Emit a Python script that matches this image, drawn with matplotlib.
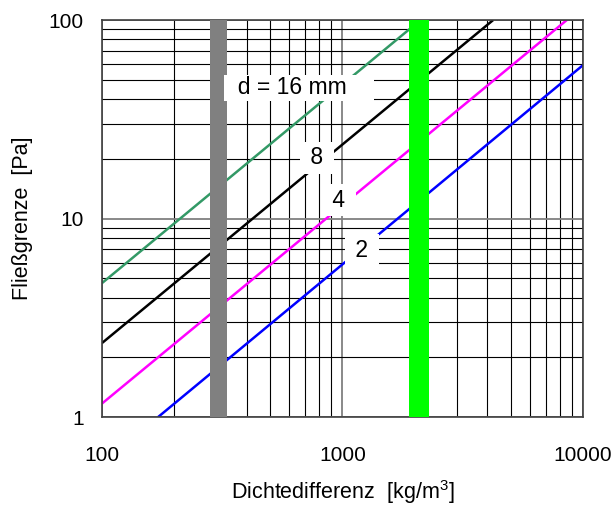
import matplotlib
matplotlib.use('Agg')
import matplotlib.pyplot as plt
from matplotlib.ticker import LogLocator, FixedLocator, NullFormatter

plt.rcParams['font.family'] = ['Liberation Sans', 'DejaVu Sans']
plt.rcParams['mathtext.fontset'] = 'custom'
plt.rcParams['mathtext.rm'] = 'Liberation Sans'
plt.rcParams['mathtext.it'] = 'Liberation Sans'

# lines: yield stress vs density difference for grain size d
sizes = ['16', '8', '4', '2']
x_ends = [[100, 2110], [100, 4230], [100, 8560], [171, 10000]]
y_ends = [[4.73, 100], [2.36, 100], [1.17, 100], [1.0, 59.3]]
colors = ['#339966', 'black', '#FF00FF', '#0000FF']

label_text = ['  d = 16 mm    ', ' 8 ', ' 4 ', ' 2 ']
label_x = [659, 784, 966, 1205]
label_y = [45.5, 20.2, 12.4, 6.94]
label_pad = [1, 3, 3, 3]

gray_band = [281, 331]
green_band = [1890, 2290]

fig = plt.figure(figsize=(6.14, 5.15), dpi=100)
ax = fig.add_axes([0.166, 0.190, 0.7835, 0.771])
ax.set_xscale('log')
ax.set_yscale('log')
ax.set_xlim(100, 10000)
ax.set_ylim(1, 100)

ax.grid(which='major', color='#808080', lw=1.3, zorder=0)
ax.grid(which='minor', color='black', lw=0.8, zorder=0)
ax.set_axisbelow(True)

for xs, ys, c in zip(x_ends, y_ends, colors):
    ax.plot(xs, ys, color=c, lw=1.8, zorder=2, solid_capstyle='butt')

ax.axvspan(gray_band[0], gray_band[1], color='#808080', zorder=3, lw=0)
ax.axvspan(green_band[0], green_band[1], color='#00FF00', zorder=3, lw=0)

for t, x, y, p in zip(label_text, label_x, label_y, label_pad):
    ax.text(x, y, t, fontsize=16.5, ha='center', va='center', zorder=4,
            bbox=dict(facecolor='white', edgecolor='none', pad=p))

ax.xaxis.set_major_locator(FixedLocator([100, 1000, 10000]))
ax.yaxis.set_major_locator(FixedLocator([1, 10, 100]))
ax.set_xticklabels(['100', '1000', '10000'])
ax.set_yticklabels(['1', '10', '100'])
ax.xaxis.set_minor_locator(LogLocator(base=10, subs=range(2, 10)))
ax.yaxis.set_minor_locator(LogLocator(base=10, subs=range(2, 10)))
ax.xaxis.set_minor_formatter(NullFormatter())
ax.yaxis.set_minor_formatter(NullFormatter())
ax.tick_params(which='both', length=0)
ax.tick_params(axis='x', pad=21, labelsize=15)
ax.tick_params(axis='y', pad=13, labelsize=15)

for s in ax.spines.values():
    s.set_color('#404040')
    s.set_linewidth(1.2)

ax.set_xlabel('Dichtedifferenz  [kg/m$^{3}$]', fontsize=15.5, labelpad=9)
ax.set_ylabel('Fließgrenze  [Pa]', fontsize=15.5, labelpad=11)

fig.savefig('out.png', dpi=100)
